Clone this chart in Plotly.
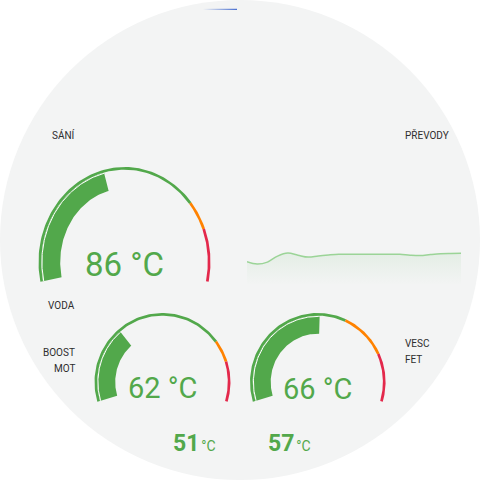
import numpy as np
import plotly.graph_objects as go

# gauge cards
gauge_values = [86, 62, 66]
gauge_min = [0, 0, 0]
gauge_max = [200, 200, 130]
gauge_warn = [150, 150, 80]
gauge_crit = [168, 168, 105]
gauge_unit = "°C"

# small readouts at the bottom
readout_values = [51, 57]

# PŘEVODY sparkline
prevody_t = list(range(22))
prevody = [2.33, 2.10, 2.29, 2.89, 3.19, 2.98, 2.79, 2.91, 3.00, 3.07, 3.07,
           3.07, 3.07, 3.07, 3.07, 3.07, 2.98, 2.94, 3.04, 3.12, 3.15, 3.17]

# labels
labels_left = ["SÁNÍ", "VODA", "BOOST", "MOT"]
labels_right = ["PŘEVODY", "VESC", "FET"]

GREEN = "#52a84b"
ORANGE = "#ff8200"
RED = "#e3284b"
TEXT = "#2e2e2e"
FONT = "Roboto"

# where each gauge sits on the 480px screen
geo = [
    dict(cx=124.5, cy=262, rx=86, ry=95, delta=12, bar=19, size=33, ty=264),
    dict(cx=162.5, cy=382, rx=68, ry=69, delta=16.6, bar=18, size=29, ty=388),
    dict(cx=317.8, cy=382, rx=67.8, ry=69, delta=16.6, bar=18, size=29, ty=389),
]


def band(g, t_out, t_in, a0, a1, n=90):
    a = np.radians(np.linspace(a0, a1, n))
    xo = g["cx"] + (g["rx"] - t_out) * np.cos(a)
    yo = g["cy"] - (g["ry"] - t_out) * np.sin(a)
    xi = g["cx"] + (g["rx"] - t_in) * np.cos(a[::-1])
    yi = g["cy"] - (g["ry"] - t_in) * np.sin(a[::-1])
    x = np.concatenate([xo, xi, xo[:1]])
    y = np.concatenate([yo, yi, yo[:1]])
    return x, y


def to_angle(g, v, vmin, vmax):
    start = 180 + g["delta"]
    span = 180 + 2 * g["delta"]
    return start - (v - vmin) / (vmax - vmin) * span


fig = go.Figure()

for i, g in enumerate(geo):
    lo, hi = gauge_min[i], gauge_max[i]
    a_min = to_angle(g, lo, lo, hi)
    a_warn = to_angle(g, gauge_warn[i], lo, hi)
    a_crit = to_angle(g, gauge_crit[i], lo, hi)
    a_max = to_angle(g, hi, lo, hi)
    a_val = to_angle(g, gauge_values[i], lo, hi)
    # thin segment ring
    for a0, a1, col in [(a_min, a_warn, GREEN), (a_warn, a_crit, ORANGE), (a_crit, a_max, RED)]:
        x, y = band(g, 0, 2.7, a0, a1)
        fig.add_trace(go.Scatter(x=x, y=y, fill="toself", fillcolor=col, mode="lines",
                                 line=dict(width=0), hoverinfo="skip", showlegend=False))
    # value bar
    x, y = band(g, 2.7, 2.7 + g["bar"], a_min, a_val)
    fig.add_trace(go.Scatter(x=x, y=y, fill="toself", fillcolor=GREEN, mode="lines",
                             line=dict(width=0), hoverinfo="skip", showlegend=False))
    a = np.radians(np.linspace(a_min, a_val, 90))
    fig.add_trace(go.Scatter(x=g["cx"] + (g["rx"] - 3.4) * np.cos(a),
                             y=g["cy"] - (g["ry"] - 3.4) * np.sin(a),
                             mode="lines", line=dict(color="white", width=1),
                             hoverinfo="skip", showlegend=False))
    fig.add_annotation(x=g["cx"], y=g["ty"], xref="x", yref="y", showarrow=False,
                       text=f"{gauge_values[i]} {gauge_unit}",
                       font=dict(family=FONT, size=g["size"], color=GREEN))

# thin blue progress fragment at the top
fig.add_trace(go.Scatter(x=[203, 237, 237, 203, 203], y=[8.7, 8.7, 10, 10, 8.7],
                         fill="toself", mode="lines", line=dict(width=0),
                         fillgradient=dict(type="horizontal",
                                           colorscale=[[0, "rgba(74,112,208,0)"],
                                                       [1, "rgba(74,112,208,1)"]]),
                         hoverinfo="skip", showlegend=False))

# sparkline
fig.add_trace(go.Scatter(x=prevody_t, y=prevody, xaxis="x2", yaxis="y2",
                         mode="lines", line=dict(color="#9bd497", width=1.5, shape="spline"),
                         fill="tozeroy",
                         fillgradient=dict(type="vertical", start=0, stop=3.2,
                                           colorscale=[[0, "rgba(76,175,80,0)"],
                                                       [1, "rgba(76,175,80,0.09)"]]),
                         hoverinfo="skip", showlegend=False))

# card labels
left_y = [134.5, 305.5, 352, 368.5]
for txt, yy in zip(labels_left, left_y):
    fig.add_annotation(x=77, y=yy, xref="x", yref="y", text=txt, showarrow=False,
                       xanchor="right", font=dict(family=FONT, size=10, color=TEXT))
right_y = [134.5, 343, 359]
for txt, yy in zip(labels_right, right_y):
    fig.add_annotation(x=403, y=yy, xref="x", yref="y", text=txt, showarrow=False,
                       xanchor="left", font=dict(family=FONT, size=10, color=TEXT))

# bottom readouts
for xx, v in zip([171, 266], readout_values):
    fig.add_annotation(x=xx, y=443, xref="x", yref="y", showarrow=False, xanchor="left",
                       text=(f"<b>{v}</b><span style='font-size:7px'> </span>"
                             f"<span style='font-size:14px'>{gauge_unit}</span>"),
                       font=dict(family=FONT, size=23, color=GREEN))

fig.add_shape(type="circle", xref="paper", yref="paper", x0=0, y0=0, x1=1, y1=1,
              fillcolor="#f3f4f4", line=dict(width=0), layer="below")

fig.update_layout(
    width=480, height=480,
    margin=dict(l=0, r=0, t=0, b=0),
    paper_bgcolor="white", plot_bgcolor="rgba(0,0,0,0)",
    xaxis=dict(range=[0, 480], visible=False, domain=[0, 1]),
    yaxis=dict(range=[480, 0], visible=False, domain=[0, 1]),
    xaxis2=dict(range=[0, 21], visible=False, domain=[247 / 480, 461 / 480], anchor="y2"),
    yaxis2=dict(range=[0, 3.5], visible=False, domain=[1 - 285 / 480, 1 - 250 / 480], anchor="x2"),
)

fig.write_html("out.html", config={"displayModeBar": False},
               post_script="document.body.style.margin='0';document.body.style.overflow='hidden';")
